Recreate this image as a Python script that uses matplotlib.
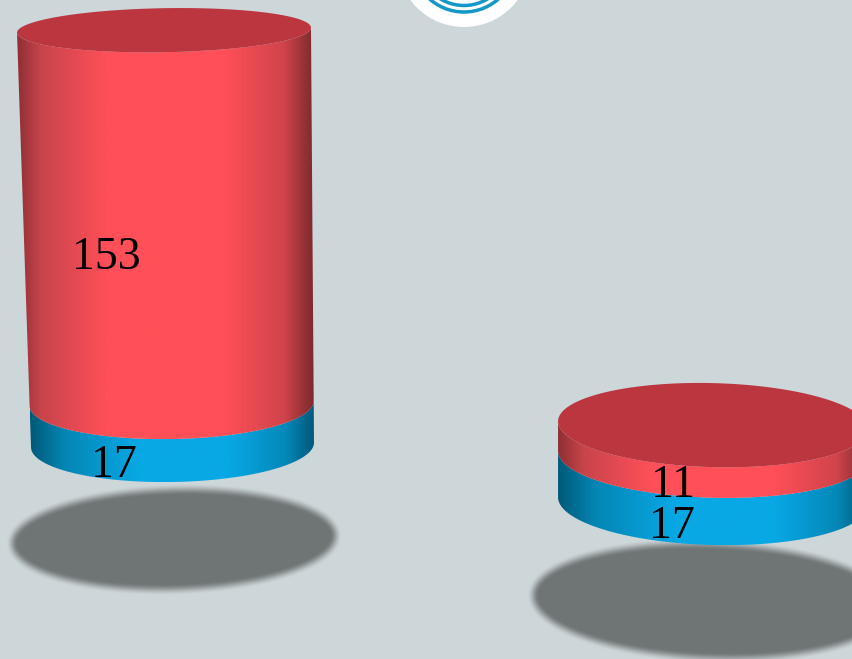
import numpy as np
import matplotlib
matplotlib.use("Agg")
import matplotlib.pyplot as plt
from matplotlib.colors import LinearSegmentedColormap, to_rgb
from matplotlib.patches import Circle, Polygon

# --- Data ---
blue_values = [17, 17]
red_values  = [153, 11]

# --- Look ---
BG      = "#cdd6d9"
CAP     = "#bc3640"
SHADOW  = "#6f7474"
RED_MAP = LinearSegmentedColormap.from_list("red", [(0, "#8f2f35"), (0.08, "#c8444b"), (0.30, "#ff4f58"),
                                                    (0.70, "#ff4f58"), (0.90, "#d0444b"), (1, "#7c2a2e")])
BLU_MAP = LinearSegmentedColormap.from_list("blu", [(0, "#005a78"), (0.12, "#0486b4"), (0.38, "#08a8e5"),
                                                    (0.70, "#08a8e5"), (0.90, "#0488b8"), (1, "#00587a")])

# per-bar geometry in pixels: perspective makes each bar its own frame
bars = [
    dict(base=(172.5, 445, 141.5, 37), top=(164, 30, 147, 22), tilt=-1.0, scale=2.44,
         shadow=(174, 539.5, 162, 50, -1.5), labels=[(114, 466), (106, 258)]),
    dict(base=(713, 501, 155, 44), top=(713, 425, 155, 42), tilt=1.5, scale=2.71,
         shadow=(712, 601, 179, 57, 2), labels=[(672, 527), (673, 486)]),
]


def ring(cx, cy, rx, ry, tilt, t):
    a = np.radians(tilt)
    x, y = rx * np.cos(t), ry * np.sin(t)
    return cx + x * np.cos(a) - y * np.sin(a), cy + x * np.sin(a) + y * np.cos(a)


def frame_at(bar, height):
    # ellipse of the bar at a given pixel height above its base
    b, t = bar["base"], bar["top"]
    f = height / (b[1] - t[1])
    return (b[0] + (t[0] - b[0]) * f, b[1] - height, b[2] + (t[2] - b[2]) * f, b[3] + (t[3] - b[3]) * f)


def draw_segment(ax, low, high, tilt, cmap, z):
    # side wall between two ellipses, shaded left to right and clipped to the outline
    t = np.linspace(0, np.pi, 120)
    xl, yl = ring(*low, tilt, t)
    xh, yh = ring(*high, tilt, t)
    pts = np.column_stack([np.r_[xl, xh[::-1]], np.r_[yl, yh[::-1]]])
    wall = Polygon(pts, closed=True, fc="none", ec="none", transform=ax.transData)
    ax.add_patch(wall)
    grad = np.linspace(0, 1, 256).reshape(1, -1)
    im = ax.imshow(grad, cmap=cmap, extent=(pts[:, 0].min(), pts[:, 0].max(), pts[:, 1].max(), pts[:, 1].min()),
                   aspect="auto", zorder=z, interpolation="bilinear")
    im.set_clip_path(wall)


def draw_shadow(ax, cx, cy, rx, ry, tilt):
    xs, ys = np.meshgrid(np.arange(852) + 0.5, np.arange(659) + 0.5)
    a = np.radians(tilt)
    u = (xs - cx) * np.cos(a) + (ys - cy) * np.sin(a)
    v = -(xs - cx) * np.sin(a) + (ys - cy) * np.cos(a)
    r = np.sqrt((u / rx) ** 2 + (v / ry) ** 2) + 1e-6
    slope = np.sqrt((u / rx ** 2) ** 2 + (v / ry ** 2) ** 2) / r + 1e-9
    d = (1 - r) / slope  # rough pixel distance to the rim
    alpha = np.clip((d + 6) / 12, 0, 1)
    alpha = alpha * alpha * (3 - 2 * alpha)
    rgba = np.zeros((659, 852, 4))
    rgba[..., :3] = to_rgb(SHADOW)
    rgba[..., 3] = alpha
    ax.imshow(rgba, extent=(0, 852, 659, 0), aspect="auto", zorder=1)


fig = plt.figure(figsize=(8.52, 6.59), dpi=100, facecolor=BG)
ax = fig.add_axes([0, 0, 1, 1])
ax.set_facecolor(BG)
ax.axis("off")

for i, bar in enumerate(bars):
    draw_shadow(ax, *bar["shadow"])
    h_blue = blue_values[i] * bar["scale"]
    h_red = red_values[i] * bar["scale"]
    base = frame_at(bar, 0)
    mid = frame_at(bar, h_blue)
    top = frame_at(bar, h_blue + h_red)
    tilt = bar["tilt"]
    draw_segment(ax, base, mid, tilt, BLU_MAP, 2)
    draw_segment(ax, mid, top, tilt, RED_MAP, 3)
    cx, cy = ring(*top, tilt, np.linspace(0, 2 * np.pi, 240))
    ax.fill(cx, cy, color=CAP, lw=0, zorder=4)
    for val, (tx, ty) in zip([blue_values[i], red_values[i]], bar["labels"]):
        ax.text(tx, ty, str(val), family="Liberation Serif", fontsize=33, color="black",
                ha="center", va="center", zorder=6)

# logo, cut off by the top edge
ax.add_patch(Circle((464, -40), 67, fc="white", ec="none", zorder=5))
ax.add_patch(Circle((464, -40), 52, fc="none", ec="#1497c9", lw=2.5, zorder=6))
ax.add_patch(Circle((464, -40), 45.5, fc="none", ec="#1497c9", lw=2.5, zorder=6))

ax.set_xlim(0, 852)
ax.set_ylim(659, 0)
fig.savefig("out.png", dpi=100, facecolor=BG)
